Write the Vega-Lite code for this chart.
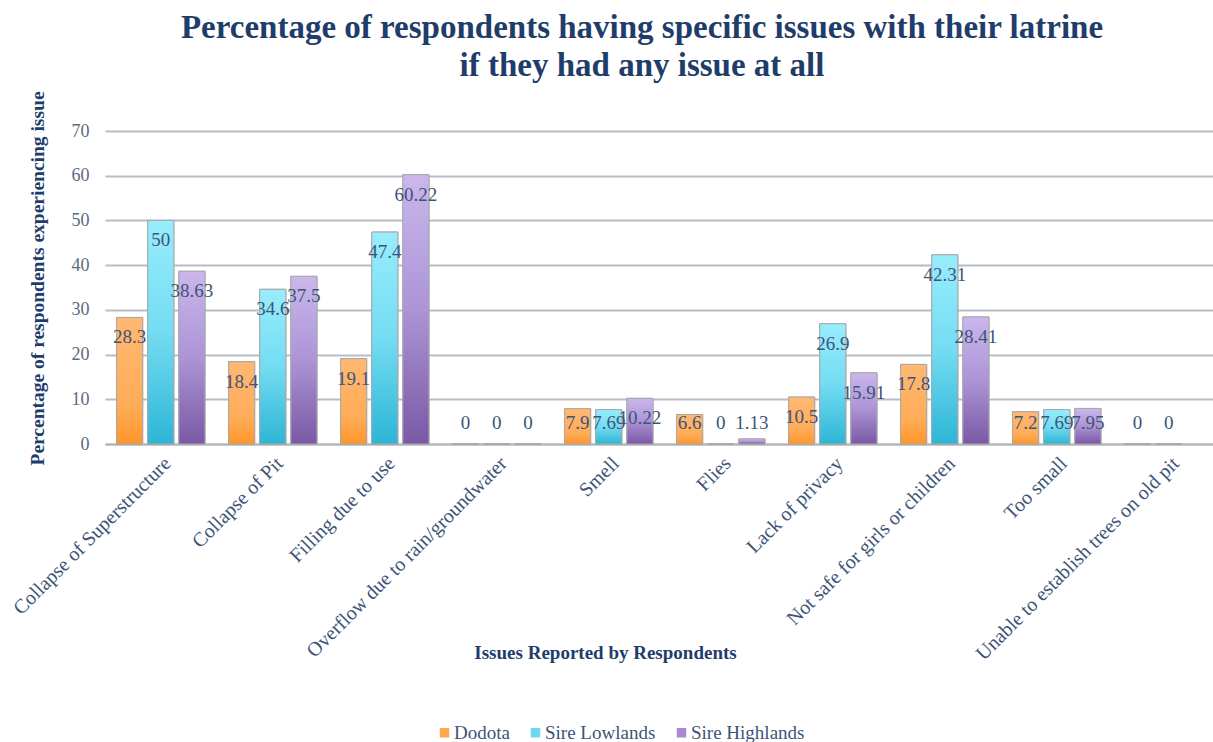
{
  "$schema": "https://vega.github.io/schema/vega-lite/v6.json",
  "autosize": "none",
  "width": 1108,
  "height": 313,
  "padding": {"left": 105, "top": 131, "right": 0, "bottom": 298},
  "background": "white",
  "title": {
    "text": ["Percentage of respondents having specific issues with their latrine", "if they had any issue at all"],
    "font": "Liberation Serif",
    "fontSize": 33,
    "fontWeight": "bold",
    "color": "#1f3d6b",
    "lineHeight": 38,
    "anchor": "middle",
    "dx": -17,
    "offset": 8
  },
  "config": {
    "view": {"stroke": null},
    "font": "Liberation Serif",
    "legend": {"labelFont": "Liberation Serif", "labelFontSize": 19, "labelColor": "#3d5478"},
    "axisY": {
      "titleFont": "Liberation Serif",
      "titleFontSize": 19.5,
      "titleFontWeight": "bold",
      "titleColor": "#1f3d6b",
      "labelFont": "Liberation Serif",
      "labelFontSize": 18,
      "labelColor": "#5a6b82",
      "labelPadding": 16,
      "ticks": false,
      "domain": false,
      "grid": true,
      "gridColor": "#b6bdc7",
      "gridWidth": 2
    },
    "axisX": {
      "titleFont": "Liberation Serif",
      "titleFontSize": 19,
      "titleFontWeight": "bold",
      "titleColor": "#1f3d6b",
      "labelFont": "Liberation Serif",
      "labelFontSize": 20,
      "labelColor": "#3d5478",
      "ticks": false,
      "domainColor": "#b0b6be",
      "domainWidth": 2
    }
  },
  "data": {
    "values": [
      {"issue": "Collapse of Superstructure", "region": "Dodota", "value": 28.3},
      {"issue": "Collapse of Superstructure", "region": "Sire Lowlands", "value": 50},
      {"issue": "Collapse of Superstructure", "region": "Sire Highlands", "value": 38.63},
      {"issue": "Collapse of Pit", "region": "Dodota", "value": 18.4},
      {"issue": "Collapse of Pit", "region": "Sire Lowlands", "value": 34.6},
      {"issue": "Collapse of Pit", "region": "Sire Highlands", "value": 37.5},
      {"issue": "Filling due to use", "region": "Dodota", "value": 19.1},
      {"issue": "Filling due to use", "region": "Sire Lowlands", "value": 47.4},
      {"issue": "Filling due to use", "region": "Sire Highlands", "value": 60.22},
      {"issue": "Overflow due to rain/groundwater", "region": "Dodota", "value": 0},
      {"issue": "Overflow due to rain/groundwater", "region": "Sire Lowlands", "value": 0},
      {"issue": "Overflow due to rain/groundwater", "region": "Sire Highlands", "value": 0},
      {"issue": "Smell", "region": "Dodota", "value": 7.9},
      {"issue": "Smell", "region": "Sire Lowlands", "value": 7.69},
      {"issue": "Smell", "region": "Sire Highlands", "value": 10.22},
      {"issue": "Flies", "region": "Dodota", "value": 6.6},
      {"issue": "Flies", "region": "Sire Lowlands", "value": 0},
      {"issue": "Flies", "region": "Sire Highlands", "value": 1.13},
      {"issue": "Lack of privacy", "region": "Dodota", "value": 10.5},
      {"issue": "Lack of privacy", "region": "Sire Lowlands", "value": 26.9},
      {"issue": "Lack of privacy", "region": "Sire Highlands", "value": 15.91},
      {"issue": "Not safe for girls or children", "region": "Dodota", "value": 17.8},
      {"issue": "Not safe for girls or children", "region": "Sire Lowlands", "value": 42.31},
      {"issue": "Not safe for girls or children", "region": "Sire Highlands", "value": 28.41},
      {"issue": "Too small", "region": "Dodota", "value": 7.2},
      {"issue": "Too small", "region": "Sire Lowlands", "value": 7.69},
      {"issue": "Too small", "region": "Sire Highlands", "value": 7.95},
      {"issue": "Unable to establish trees on old pit", "region": "Dodota", "value": 0},
      {"issue": "Unable to establish trees on old pit", "region": "Sire Lowlands", "value": 0}
    ]
  },
  "encoding": {
    "x": {
      "field": "issue",
      "type": "nominal",
      "sort": null,
      "scale": {"paddingInner": 0.21, "paddingOuter": 0.0515, "align": 1},
      "axis": {
        "title": "Issues Reported by Respondents",
        "titleX": 500,
        "titleY": 208,
        "titleBaseline": "middle",
        "labelAngle": -45,
        "labelPadding": 9,
        "labelLimit": 400
      }
    },
    "xOffset": {
      "field": "region",
      "type": "nominal",
      "sort": ["Dodota", "Sire Lowlands", "Sire Highlands"],
      "scale": {"paddingInner": 0.161, "paddingOuter": 0}
    },
    "y": {
      "field": "value",
      "type": "quantitative",
      "scale": {"domain": [0, 70], "nice": false},
      "axis": {
        "title": "Percentage of respondents experiencing issue",
        "titleX": -68,
        "titleY": 147,
        "titleBaseline": "middle",
        "values": [0, 10, 20, 30, 40, 50, 60, 70]
      }
    }
  },
  "layer": [
    {
      "mark": {"type": "bar", "stroke": "#a8a8a8", "strokeWidth": 1},
      "encoding": {
        "color": {
          "field": "region",
          "type": "nominal",
          "sort": ["Dodota", "Sire Lowlands", "Sire Highlands"],
          "scale": {
            "domain": ["Dodota", "Sire Lowlands", "Sire Highlands"],
            "range": ["#ffa850", "#6fd8f0", "#a98ad2"]
          },
          "legend": {
            "title": null,
            "orient": "none",
            "direction": "horizontal",
            "legendX": 330,
            "legendY": 592,
            "padding": 0,
            "symbolType": "square",
            "symbolSize": 90,
            "symbolStrokeWidth": 0,
            "labelFont": "Liberation Serif",
            "labelFontSize": 19,
            "labelColor": "#3d5478",
            "labelOffset": 0,
            "columnPadding": 16
          }
        }
      }
    },
    {
      "transform": [{"filter": "datum.region === 'Dodota'"}],
      "mark": {
        "type": "bar",
        "stroke": "#a8a8a8",
        "strokeWidth": 1,
        "color": {
          "gradient": "linear", "x1": 0, "y1": 0, "x2": 0, "y2": 1,
          "stops": [{"offset": 0, "color": "#ffb872"}, {"offset": 0.7, "color": "#ffac58"}, {"offset": 1, "color": "#ff952a"}]
        }
      }
    },
    {
      "transform": [{"filter": "datum.region === 'Sire Lowlands'"}],
      "mark": {
        "type": "bar",
        "stroke": "#a8a8a8",
        "strokeWidth": 1,
        "color": {
          "gradient": "linear", "x1": 0, "y1": 0, "x2": 0, "y2": 1,
          "stops": [{"offset": 0, "color": "#97edfd"}, {"offset": 0.5, "color": "#74dcf2"}, {"offset": 1, "color": "#2db5d6"}]
        }
      }
    },
    {
      "transform": [{"filter": "datum.region === 'Sire Highlands'"}],
      "mark": {
        "type": "bar",
        "stroke": "#a8a8a8",
        "strokeWidth": 1,
        "color": {
          "gradient": "linear", "x1": 0, "y1": 0, "x2": 0, "y2": 1,
          "stops": [{"offset": 0, "color": "#cab7ec"}, {"offset": 0.5, "color": "#ac94d6"}, {"offset": 1, "color": "#7a58a6"}]
        }
      }
    },
    {
      "transform": [{"calculate": "max(datum.value, 9.2)", "as": "labelAt"}],
      "mark": {
        "type": "text",
        "font": "Liberation Serif",
        "fontSize": 19,
        "color": "#3d5478",
        "baseline": "middle",
        "dy": 20
      },
      "encoding": {
        "y": {
          "field": "labelAt",
          "type": "quantitative",
          "scale": {"domain": [0, 70], "nice": false},
          "axis": {
            "title": "Percentage of respondents experiencing issue",
            "titleX": -68,
            "titleY": 147,
            "titleBaseline": "middle",
            "values": [0, 10, 20, 30, 40, 50, 60, 70]
          }
        },
        "text": {"field": "value", "type": "quantitative"}
      }
    }
  ]
}
